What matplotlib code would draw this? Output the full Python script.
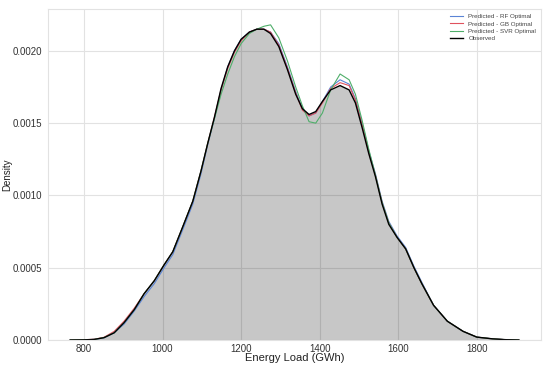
import matplotlib
matplotlib.use("Agg")
import matplotlib.pyplot as plt

# x grid (GWh) and density curves
load = [765, 800, 826, 851, 877, 902, 928, 953, 979, 1004, 1026, 1051, 1077,
        1098, 1115, 1132, 1149, 1166, 1183, 1200, 1221, 1240, 1258, 1275, 1296,
        1318, 1339, 1356, 1373, 1390, 1407, 1428, 1452, 1475, 1491, 1508, 1525,
        1542, 1559, 1576, 1597, 1619, 1640, 1660, 1690, 1725, 1765, 1800, 1840,
        1875, 1907]

observed = [0.0, 0.000001, 0.000004, 0.000016, 0.00005, 0.00012, 0.00021, 0.00032,
            0.00041, 0.00052, 0.00061, 0.00078, 0.00096, 0.00117, 0.00136, 0.00154,
            0.00174, 0.00189, 0.00200, 0.00208, 0.00213, 0.00215, 0.00215, 0.00212,
            0.00203, 0.00187, 0.00170, 0.00160, 0.00156, 0.00158, 0.00165, 0.00173,
            0.00176, 0.00173, 0.00164, 0.00147, 0.00129, 0.00113, 0.00094, 0.00080,
            0.00071, 0.00063, 0.00050, 0.00039, 0.00024, 0.00013, 0.00006, 0.00002,
            0.000008, 0.000002, 0.0]

rf_pred = [0.0, 0.000001, 0.000004, 0.000015, 0.00005, 0.00011, 0.00020, 0.00030,
           0.00039, 0.00050, 0.00059, 0.00076, 0.00094, 0.00115, 0.00135, 0.00153,
           0.00173, 0.00189, 0.00200, 0.00208, 0.00213, 0.00215, 0.00215, 0.00213,
           0.00205, 0.00189, 0.00172, 0.00160, 0.00155, 0.00157, 0.00165, 0.00175,
           0.00180, 0.00177, 0.00167, 0.00150, 0.00131, 0.00115, 0.00096, 0.00082,
           0.00072, 0.00064, 0.00051, 0.00040, 0.00024, 0.00013, 0.00006, 0.00002,
           0.000008, 0.000002, 0.0]

gb_pred = [0.0, 0.000002, 0.000005, 0.000019, 0.00006, 0.00013, 0.00022, 0.00032,
           0.00041, 0.00052, 0.00061, 0.00078, 0.00096, 0.00117, 0.00136, 0.00154,
           0.00173, 0.00188, 0.00199, 0.00207, 0.00213, 0.00215, 0.00215, 0.00213,
           0.00204, 0.00188, 0.00171, 0.00159, 0.00155, 0.00157, 0.00164, 0.00174,
           0.00178, 0.00176, 0.00166, 0.00149, 0.00130, 0.00114, 0.00095, 0.00081,
           0.00071, 0.00063, 0.00050, 0.00039, 0.00024, 0.00013, 0.00006, 0.00002,
           0.000008, 0.000002, 0.0]

svr_pred = [0.0, 0.000001, 0.000004, 0.000017, 0.00005, 0.00012, 0.00021, 0.00032,
            0.00041, 0.00052, 0.00061, 0.00078, 0.00096, 0.00117, 0.00136, 0.00153,
            0.00170, 0.00184, 0.00196, 0.00205, 0.00212, 0.00215, 0.00217, 0.00218,
            0.00209, 0.00193, 0.00175, 0.00162, 0.00151, 0.00150, 0.00157, 0.00173,
            0.00184, 0.00180, 0.00170, 0.00152, 0.00132, 0.00114, 0.00095, 0.00081,
            0.00071, 0.00063, 0.00050, 0.00039, 0.00024, 0.00013, 0.00006, 0.00002,
            0.000008, 0.000002, 0.0]

plt.rcParams['font.family'] = ['Liberation Sans', 'DejaVu Sans']

fig = plt.figure(figsize=(5.5, 3.65), dpi=100)
ax = fig.add_axes([0.087, 0.0685, 0.897, 0.907])

ax.grid(True, color='#e2e2e2', linewidth=0.8)
ax.set_axisbelow(True)
for s in ax.spines.values():
    s.set_color('#e2e2e2')
    s.set_linewidth(0.8)

ax.fill_between(load, observed, color='black', alpha=0.22, linewidth=0)
ax.plot(load, rf_pred, color='#5b84d6', lw=0.8, label='Predicted - RF Optimal')
ax.plot(load, gb_pred, color='#e0525e', lw=0.8, label='Predicted - GB Optimal')
ax.plot(load, svr_pred, color='#4fae6a', lw=0.8, label='Predicted - SVR Optimal')
ax.plot(load, observed, color='black', lw=1.0, label='Observed')

ax.set_xlim(708, 1964)
ax.set_ylim(0, 0.00229)
ax.set_xticks([800, 1000, 1200, 1400, 1600, 1800])
ax.set_yticks([0, 0.0005, 0.0010, 0.0015, 0.0020])
ax.set_yticklabels(['0.0000', '0.0005', '0.0010', '0.0015', '0.0020'])
ax.tick_params(length=0, labelsize=7, colors='#333333')
ax.tick_params(axis='x', pad=3)
ax.tick_params(axis='y', pad=4)

ax.set_xlabel('Energy Load (GWh)', fontsize=8, labelpad=-1, color='#222222')
ax.set_ylabel('Density', fontsize=7, color='#222222')
ax.yaxis.set_label_coords(-0.073, 0.5)

leg = ax.legend(loc='upper right', fontsize=4.5, frameon=False, handlelength=2.2,
                labelspacing=0.3, borderaxespad=0.4)
for t in leg.get_texts():
    t.set_color('#444444')

fig.savefig('out.png', dpi=100)
